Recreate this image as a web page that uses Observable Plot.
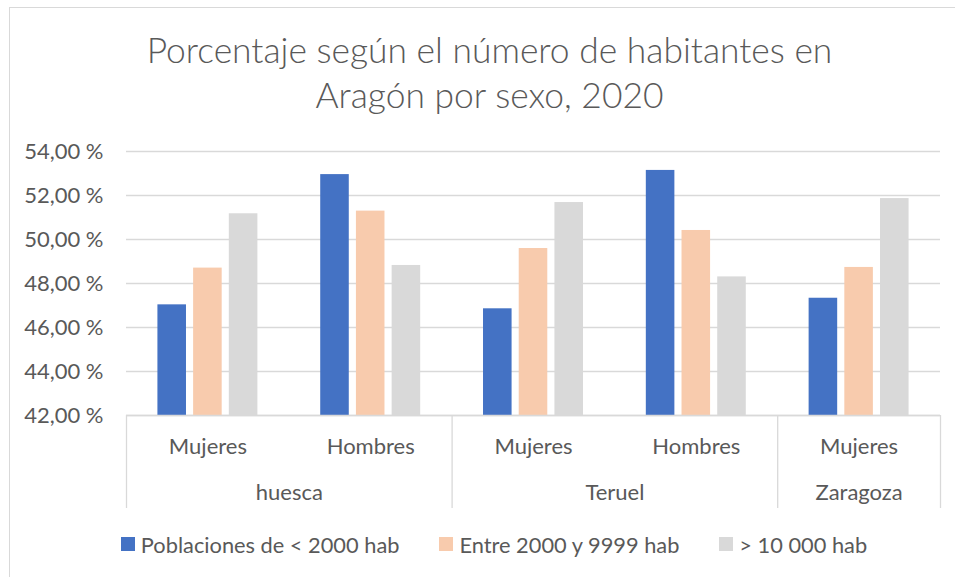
<!DOCTYPE html>
<html><head><meta charset="utf-8">
<script src="https://cdn.jsdelivr.net/npm/d3@7"></script>
<script src="https://cdn.jsdelivr.net/npm/@observablehq/plot@0.6"></script>
<style>
html,body{margin:0;padding:0;background:#fff;}
body{width:955px;height:577px;overflow:hidden;position:relative;font-family:Lato,"Open Sans",sans-serif;color:#595959;}
#frame{position:absolute;left:9px;top:7px;width:980px;height:620px;border:1.5px solid #d9d9d9;box-sizing:border-box;}
#title{position:absolute;left:0;width:979px;top:27px;text-align:center;font-size:35.4px;line-height:45px;font-weight:300;}
#chart{position:absolute;left:0;top:130px;}
#legend{position:absolute;left:0;width:988px;top:530px;height:28px;display:flex;justify-content:center;align-items:center;gap:40px;font-size:21.8px;}
.item{display:flex;align-items:center;gap:6px;}
.sw{width:14px;height:14px;display:inline-block;}
</style></head><body>
<div id="frame"></div>
<div id="title">Porcentaje según el número de habitantes en<br>Aragón por sexo, 2020</div>
<div id="chart"></div>
<div id="legend"></div>
<script>
const provinces = ["huesca", "huesca", "Teruel", "Teruel", "Zaragoza"];
const sexes = ["Mujeres", "Hombres", "Mujeres", "Hombres", "Mujeres"];
const seriesNames = ["Poblaciones de < 2000 hab", "Entre 2000 y 9999 hab", "> 10 000 hab"];
const seriesColors = ["#4472c4", "#f8cbad", "#d9d9d9"];
const lowValues = [47.03, 52.95, 46.85, 53.14, 47.33];
const midValues = [48.70, 51.29, 49.59, 50.41, 48.73];
const highValues = [51.17, 48.82, 51.68, 48.30, 51.86];
const yTicks = [42, 44, 46, 48, 50, 52, 54];

const valuesBySeries = [lowValues, midValues, highValues];
const rows = [];
sexes.forEach((sex, i) => seriesNames.forEach((s, j) =>
  rows.push({i, sex, prov: provinces[i], series: s, value: valuesBySeries[j][i]})));

const sub = d3.scaleBand().domain(seriesNames).range([0, 1]).paddingInner(0.2).paddingOuter(0.88);

const groups = [];
provinces.forEach((p, i) => {
  const last = groups[groups.length - 1];
  if (last && last.prov === p) last.end = i + 1;
  else groups.push({prov: p, start: i, end: i + 1});
});
const boundaries = [0, ...groups.map(g => g.end)];

const W = 955, H = 378, MT = 21, MB = 93, ML = 126, MR = 15;
const fmt = d => d.toFixed(2).replace(".", ",") + "\u00a0%";
const axisColor = "#d9d9d9";
const textColor = "#595959";

const chart = Plot.plot({
  width: W, height: H,
  marginLeft: ML, marginRight: MR, marginTop: MT, marginBottom: MB,
  style: {fontFamily: "Lato, 'Open Sans', sans-serif", fontSize: "22px", color: textColor, background: "transparent", overflow: "visible"},
  x: {type: "linear", domain: [0, sexes.length], axis: null},
  y: {domain: [yTicks[0], yTicks[yTicks.length - 1]]},
  color: {domain: seriesNames, range: seriesColors},
  marks: [
    Plot.gridY(yTicks, {stroke: axisColor, strokeOpacity: 1, strokeWidth: 1.3}),
    Plot.axisY(yTicks, {tickSize: 0, tickPadding: 23, tickFormat: fmt, fill: textColor, fontSize: 22, label: null}),
    Plot.rectY(rows, {
      x1: d => d.i + sub(d.series),
      x2: d => d.i + sub(d.series) + sub.bandwidth(),
      y1: yTicks[0], y2: "value", fill: "series"
    }),
    Plot.ruleY([yTicks[0]], {stroke: axisColor, strokeWidth: 1.3}),
    // category-axis separators: from the baseline down to the bottom of the svg
    Plot.ruleX(boundaries, {x: d => d, insetTop: H - MT - MB, insetBottom: -MB, stroke: axisColor, strokeWidth: 1.3}),
    Plot.text(sexes, {x: (d, i) => i + 0.5, frameAnchor: "bottom", dy: 38, text: d => d, fill: textColor, fontSize: 22}),
    Plot.text(groups, {x: g => (g.start + g.end) / 2, frameAnchor: "bottom", dy: 84, text: "prov", fill: textColor, fontSize: 22})
  ]
});
document.getElementById("chart").appendChild(chart);

const legend = document.getElementById("legend");
seriesNames.forEach((name, j) => {
  const item = document.createElement("div");
  item.className = "item";
  const sw = document.createElement("span");
  sw.className = "sw";
  sw.style.background = seriesColors[j];
  const label = document.createElement("span");
  label.textContent = name;
  item.appendChild(sw); item.appendChild(label);
  legend.appendChild(item);
});
</script>
</body></html>
